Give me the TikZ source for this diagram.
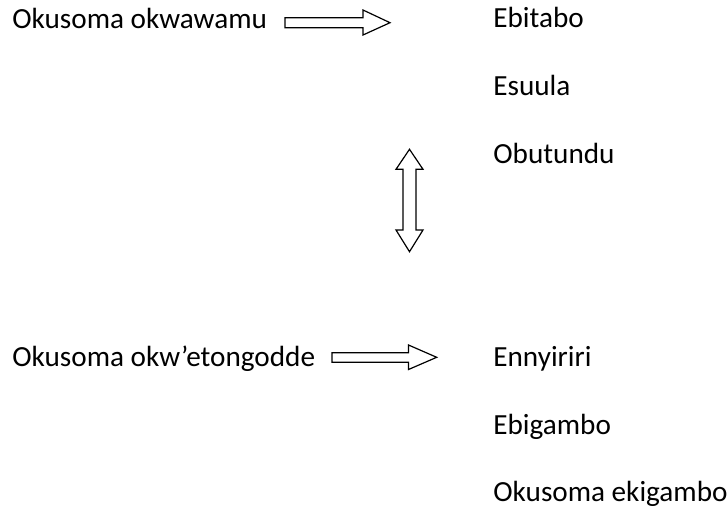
\documentclass[tikz,border=0pt]{standalone}
\usepackage{fontspec}
\setmainfont{Carlito}
\tikzset{
  word/.style={anchor=base west, inner sep=0pt, font=\fontsize{14.6}{17}\selectfont},
  blockarrow/.style={draw, line width=0.6pt, fill=white, line join=miter}
}
\begin{document}
\begin{tikzpicture}[x=0.5pt, y=-0.5pt]
    \useasboundingbox (0,0) rectangle (728,509);
    % top group
    \node[word] (whole) at (12,28) {Okusoma okwawamu};
    \node[word] (ebitabo) at (493,27.5) {Ebitabo};
    \node[word] (esuula) at (493,95.5) {Esuula};
    \node[word] (obutundu) at (493,163) {Obutundu};
    \draw[blockarrow] (285,17.7) -- (363,17.7) -- (363,10) -- (390,22.7)
        -- (363,35) -- (363,27.7) -- (285,27.7) -- cycle;
    % link between the two groups
    \draw[blockarrow] (409.5,149.3) -- (423,169.3) -- (416,169.3) -- (416,230)
        -- (423,230) -- (409.5,251.7) -- (396,230) -- (403,230) -- (403,169.3)
        -- (396,169.3) -- cycle;
    % bottom group
    \node[word] (parts) at (12,366.5) {Okusoma okw’etongodde};
    \node[word] (ennyiriri) at (493,366.5) {Ennyiriri};
    \node[word] (ebigambo) at (493,434) {Ebigambo};
    \node[word] (ekigambo) at (493,501.5) {Okusoma ekigambo};
    \draw[blockarrow] (332,352.7) -- (408.5,352.7) -- (408.5,345) -- (436.7,357.3)
        -- (408.5,369.5) -- (408.5,362.3) -- (332,362.3) -- cycle;
\end{tikzpicture}
\end{document}
